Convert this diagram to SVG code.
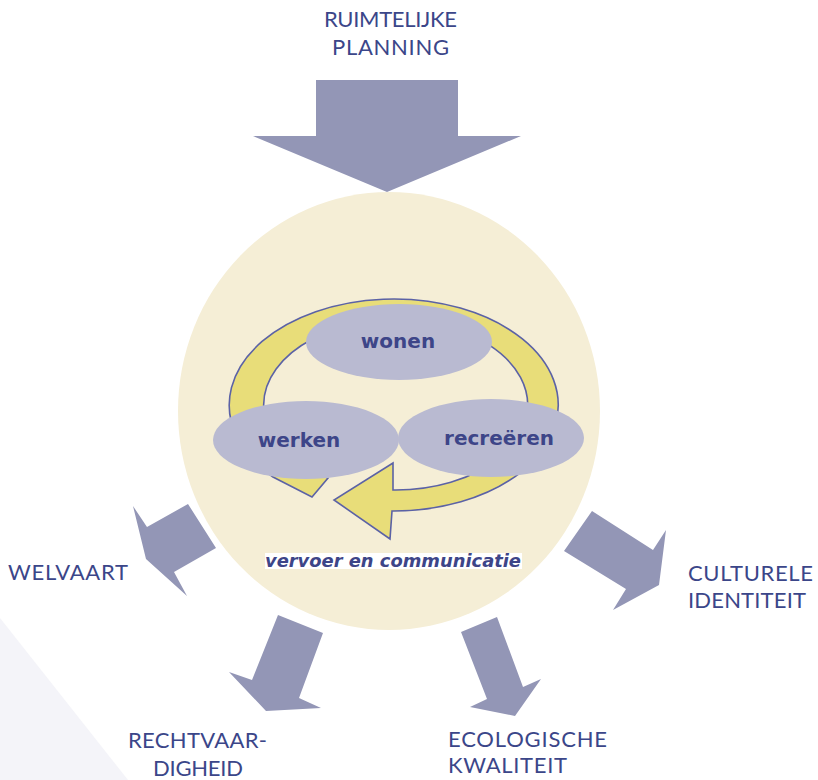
<svg xmlns="http://www.w3.org/2000/svg" width="818" height="780" viewBox="0 0 818 780">
  <style>
    .label { font-family: "Lato", "Liberation Sans", sans-serif; font-size: 22px; fill: #3b4689; }
    .fat { fill: #9396b6; }
    .bubble { fill: #b9bad1; }
    .bubble-text { font-family: "DejaVu Sans", "Liberation Sans", sans-serif; font-weight: bold; font-size: 20px; fill: #3d4588; text-anchor: middle; }
    .cycle { fill: #e8dd79; stroke: #5b62a6; stroke-width: 1.6; stroke-linejoin: miter; }
  </style>

  <rect width="818" height="780" fill="#ffffff"/>

  <!-- pale backdrop corner -->
  <polygon points="0,618 128,780 0,780" fill="#f4f4f9"/>

  <!-- central field -->
  <g id="field">
    <ellipse cx="389" cy="411" rx="211" ry="219" fill="#f5eed6"/>
  </g>

  <!-- arrows in and out of the field -->
  <g id="connectors">
    <polygon id="arrow-planning" class="fat" points="316,80 458,80 458,136 521,136 387,192 253,136 316,136"/>
    <polygon id="arrow-welvaart" class="fat" points="188,504 216,548 174,572 187,596 146,559 133,506 147,527"/>
    <polygon id="arrow-rechtvaardigheid" class="fat" points="278,615 323,633 299,698 321,708 266,711 229,672 252,680"/>
    <polygon id="arrow-ecologische" class="fat" points="461,632 497,617 523,687 541,679 515,716 470,707 487,699"/>
    <polygon id="arrow-culturele" class="fat" points="592,511 653,550 666,530 659,585 613,610 626,589 564,551"/>
  </g>

  <!-- cycle arrow around the three activities -->
  <g id="cycle">
    <path class="cycle" d="M273,477 A164.5,106 0 1 1 392,511 L390,539 L334,500 L393,463 L393,490 A132,85 0 1 0 328,478 L312,497 Z"/>
  </g>

  <g id="node-wonen">
    <ellipse class="bubble" cx="399" cy="342" rx="93" ry="38"/>
    <text class="bubble-text" x="398" y="348">wonen</text>
  </g>
  <g id="node-werken">
    <ellipse class="bubble" cx="306" cy="440" rx="93" ry="39"/>
    <text class="bubble-text" x="299" y="447">werken</text>
  </g>
  <g id="node-recreeren">
    <ellipse class="bubble" cx="491" cy="438" rx="93" ry="39"/>
    <text class="bubble-text" x="499" y="445">recreëren</text>
  </g>

  <g id="node-vervoer">
    <rect x="265" y="553" width="257" height="16" fill="#ffffff"/>
    <text x="265" y="567" textLength="256" lengthAdjust="spacingAndGlyphs" font-family="DejaVu Sans, Liberation Sans, sans-serif" font-weight="bold" font-style="italic" font-size="17" fill="#3d4588">vervoer en communicatie</text>
  </g>

  <g id="node-planning">
    <text class="label" x="390.5" y="27" text-anchor="middle" font-size="23" textLength="133">RUIMTELIJKE</text>
    <text class="label" x="390.5" y="55" text-anchor="middle" font-size="23" textLength="117">PLANNING</text>
  </g>
  <g id="node-welvaart">
    <text class="label" x="8" y="580" textLength="120">WELVAART</text>
  </g>
  <g id="node-culturele">
    <text class="label" x="688" y="581" textLength="125">CULTURELE</text>
    <text class="label" x="688" y="608" textLength="118">IDENTITEIT</text>
  </g>
  <g id="node-rechtvaardigheid">
    <text class="label" x="128" y="748" textLength="139">RECHTVAAR-</text>
    <text class="label" x="153" y="776" textLength="90">DIGHEID</text>
  </g>
  <g id="node-ecologische">
    <text class="label" x="448" y="747" textLength="159">ECOLOGISCHE</text>
    <text class="label" x="448" y="773" textLength="119">KWALITEIT</text>
  </g>
</svg>
